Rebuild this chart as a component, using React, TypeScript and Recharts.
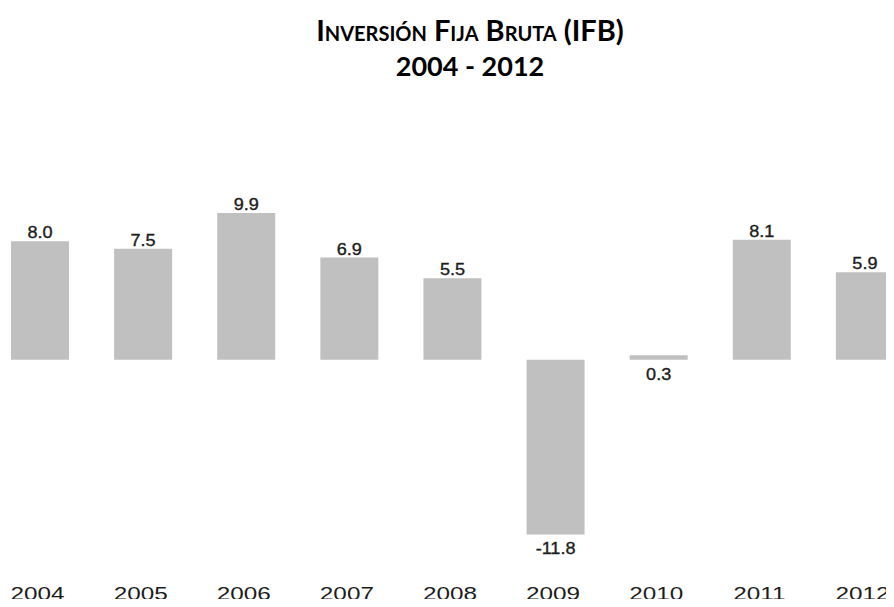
import { BarChart, Bar, XAxis, YAxis, LabelList } from "recharts";

// Gross fixed investment growth (%)
const years = ["2004", "2005", "2006", "2007", "2008", "2009", "2010", "2011", "2012"];
const growth = [8.0, 7.5, 9.9, 6.9, 5.5, -11.8, 0.3, 8.1, 5.9];

const data = years.map((year, i) => ({ year, value: growth[i] }));

const BAR_COLOR = "#c0c0c0";
const TEXT_COLOR = "#1c1c1c";
const NUM_FONT = "'Liberation Sans', Arial, sans-serif";

function ValueLabel(props: any) {
    const { x, y, width, height, value } = props;
    const top = Math.min(y, y + height);
    const bottom = Math.max(y, y + height);
    const cx = x + width / 2;
    // small or negative values sit under the bar
    const below = value < 1;
    const ty = below ? bottom + 20 : top - 3;
    return (
        <text
            transform={`translate(${cx},${ty}) scale(1.13,1)`}
            textAnchor="middle"
            fontFamily={NUM_FONT}
            fontSize={16}
            fill={TEXT_COLOR}
            stroke={TEXT_COLOR}
            strokeWidth={0.35}
        >
            {value.toFixed(1)}
        </text>
    );
}

function YearTick(props: any) {
    const { x, y, payload } = props;
    return (
        <text
            transform={`translate(${x - 2},${y + 33}) scale(1.35,1)`}
            textAnchor="middle"
            fontFamily={NUM_FONT}
            fontSize={18}
            fill={TEXT_COLOR}
        >
            {payload.value}
        </text>
    );
}

export default function App() {
    return (
        <div
            style={{
                position: "relative",
                width: 894,
                height: 607,
                margin: -8,
                overflow: "hidden",
                background: "#fff",
            }}
        >
            <div
                style={{
                    position: "absolute",
                    left: 0,
                    top: 12,
                    width: 940,
                    textAlign: "center",
                    fontFamily: "Lato, 'Open Sans', sans-serif",
                    fontWeight: 700,
                    color: "#000",
                    lineHeight: "36px",
                }}
            >
                <div style={{ fontSize: 29, fontVariant: "small-caps" }}>
                    Inversión Fija Bruta (IFB)
                </div>
                <div style={{ fontSize: 27 }}>2004 - 2012</div>
            </div>
            <div style={{ position: "absolute", left: -12, top: 0 }}>
                <BarChart
                    width={928}
                    height={607}
                    data={data}
                    margin={{ top: 182, right: 0, bottom: 10, left: 0 }}
                >
                    <XAxis
                        dataKey="year"
                        axisLine={false}
                        tickLine={false}
                        tickSize={0}
                        tickMargin={0}
                        height={30}
                        interval={0}
                        tick={<YearTick />}
                    />
                    <YAxis hide domain={[-14, 12]} />
                    <Bar dataKey="value" fill={BAR_COLOR} barSize={58} isAnimationActive={false}>
                        <LabelList dataKey="value" content={<ValueLabel />} />
                    </Bar>
                </BarChart>
            </div>
        </div>
    );
}
